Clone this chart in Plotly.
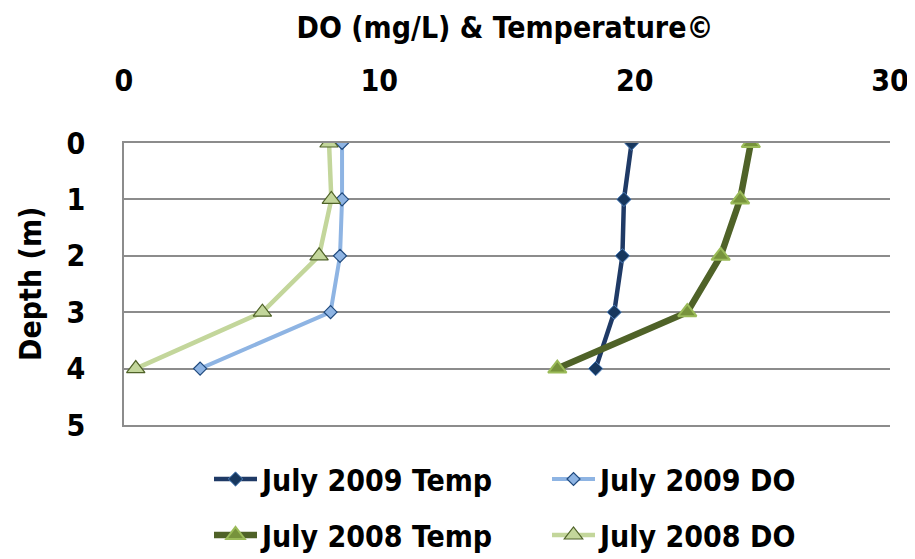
import plotly.graph_objects as go

depth = [0, 1, 2, 3, 4]
temp_2009 = [19.88, 19.58, 19.52, 19.2, 18.47]
do_2009 = [8.54, 8.54, 8.46, 8.09, 2.98]
temp_2008 = [24.55, 24.13, 23.37, 22.06, 16.97]
do_2008 = [8.03, 8.12, 7.64, 5.42, 0.46]

FONT = "DejaVu Sans Condensed, Roboto, sans-serif"
GRID = "#8c8c8c"

# the page puts the figure 8px in from the window edge
W, H = 907, 551

fig = go.Figure()
fig.add_trace(go.Scatter(
    x=temp_2009, y=depth, name="July 2009 Temp", mode="lines+markers",
    line=dict(color="#1f3a66", width=4.5),
    marker=dict(symbol="diamond", size=11, color="#17375e", line=dict(color="#4f81bd", width=1)),
    legend="legend"))
fig.add_trace(go.Scatter(
    x=do_2009, y=depth, name="July 2009 DO", mode="lines+markers",
    line=dict(color="#8eb4e3", width=4),
    marker=dict(symbol="diamond", size=10, color="#8eb4e3", line=dict(color="#1f497d", width=1.2)),
    legend="legend"))
fig.add_trace(go.Scatter(
    x=temp_2008, y=depth, name="July 2008 Temp", mode="lines+markers",
    line=dict(color="#4f6228", width=6.5),
    marker=dict(symbol="triangle-up", size=16, color="#77933c", line=dict(color="#9bbb59", width=2)),
    legend="legend2"))
fig.add_trace(go.Scatter(
    x=do_2008, y=depth, name="July 2008 DO", mode="lines+markers",
    line=dict(color="#c3d69b", width=4.5),
    marker=dict(symbol="triangle-up", size=16, color="#c3d69b", line=dict(color="#4f6228", width=1.2)),
    legend="legend2"))

fig.update_layout(
    width=W, height=H,
    margin=dict(l=116, r=25, t=135, b=134),
    paper_bgcolor="white", plot_bgcolor="white",
    font=dict(family=FONT, size=30, color="black"),
    title=dict(text="<b>DO (mg/L) & Temperature©</b>", x=497 / W, xanchor="center",
               y=1 - 19 / H, yanchor="middle", font=dict(size=30)),
    xaxis=dict(side="top", range=[0, 30], dtick=10, showgrid=False, zeroline=False,
               showline=True, mirror=True, linecolor=GRID, linewidth=1.5,
               ticks="outside", ticklen=0, ticklabelstandoff=38, automargin=False,
               tickfont=dict(size=30, family=FONT, weight="bold")),
    yaxis=dict(range=[5, 0], dtick=1, showgrid=True, gridcolor=GRID, gridwidth=1.5,
               zeroline=False, showline=True, linecolor=GRID, linewidth=1.5,
               ticks="", ticklabelstandoff=31, automargin=False,
               tickfont=dict(size=30, family=FONT, weight="bold")),
    legend=dict(orientation="h", xref="container", yref="container",
                x=201 / W, y=1 - 471 / H, yanchor="middle", xanchor="left",
                entrywidth=280, itemwidth=43,
                font=dict(size=30, family=FONT, weight="bold"),
                bgcolor="rgba(0,0,0,0)"),
    legend2=dict(orientation="h", xref="container", yref="container",
                 x=201 / W, y=1 - 527 / H, yanchor="middle", xanchor="left",
                 entrywidth=280, itemwidth=43,
                 font=dict(size=30, family=FONT, weight="bold"),
                 bgcolor="rgba(0,0,0,0)"),
    annotations=[dict(text="<b>Depth (m)</b>", textangle=-90, xref="paper", yref="paper",
                      x=(30 - 124) / 766, y=0.5, xanchor="center", yanchor="middle",
                      showarrow=False, font=dict(size=30, family=FONT))],
    hovermode=False,
)

fig.write_html("out.html")
